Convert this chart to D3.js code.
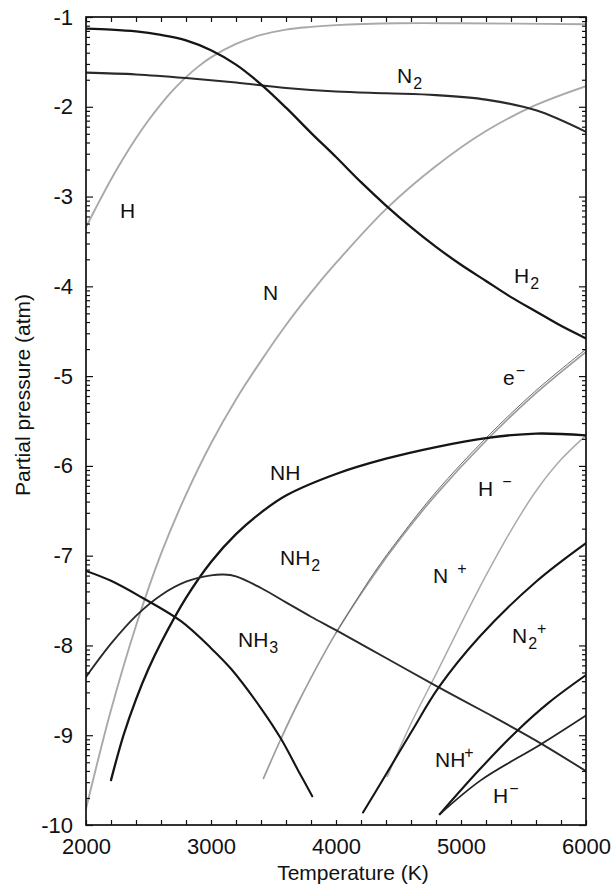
<!DOCTYPE html>
<html>
<head>
<meta charset="utf-8">
<script src="https://cdn.jsdelivr.net/npm/d3@7"></script>
<style>
  html, body { margin: 0; background: #fff; }
  svg { display: block; }
  text { font-family: "Liberation Sans", Arial, Helvetica, sans-serif; fill: #111; }
</style>
</head>
<body>
<svg id="chart" width="616" height="886"></svg>
<script>
// Equilibrium partial pressures, log10(p / atm), versus temperature (K)
const H2 = [[2000,-1.13],[2200,-1.14],[2400,-1.16],[2600,-1.20],[2800,-1.26],[3000,-1.37],[3200,-1.53],[3400,-1.75],[3600,-2.01],[3800,-2.29],[4000,-2.56],[4200,-2.84],[4400,-3.10],[4600,-3.34],[4800,-3.56],[5000,-3.76],[5200,-3.94],[5400,-4.12],[5600,-4.28],[5800,-4.44],[6000,-4.58]];
const N2 = [[2000,-1.62],[2400,-1.64],[2800,-1.68],[3200,-1.73],[3600,-1.79],[4000,-1.83],[4400,-1.85],[4800,-1.87],[5200,-1.92],[5600,-2.04],[6000,-2.28]];
const H  = [[2000,-3.34],[2100,-3.07],[2200,-2.81],[2300,-2.57],[2400,-2.35],[2500,-2.15],[2600,-1.97],[2700,-1.81],[2800,-1.67],[2900,-1.55],[3000,-1.45],[3200,-1.30],[3400,-1.20],[3600,-1.14],[3800,-1.11],[4000,-1.09],[4500,-1.07],[5000,-1.07],[6000,-1.08]];
const N  = [[2000,-9.82],[2200,-8.72],[2400,-7.78],[2600,-6.98],[2800,-6.32],[3000,-5.75],[3200,-5.26],[3400,-4.83],[3600,-4.43],[3800,-4.07],[4000,-3.74],[4400,-3.14],[4800,-2.66],[5200,-2.27],[5600,-1.98],[6000,-1.77]];
const NH = [[2200,-9.50],[2300,-9.00],[2400,-8.60],[2500,-8.26],[2600,-7.97],[2800,-7.47],[3000,-7.07],[3200,-6.76],[3400,-6.52],[3600,-6.33],[4000,-6.09],[4400,-5.92],[4800,-5.79],[5200,-5.69],[5600,-5.64],[6000,-5.66]];
const NH2 = [[2000,-8.35],[2200,-7.98],[2400,-7.67],[2600,-7.44],[2800,-7.29],[3000,-7.22],[3100,-7.21],[3200,-7.23],[3400,-7.36],[3600,-7.52],[3800,-7.68],[4000,-7.83],[4400,-8.14],[4800,-8.45],[5200,-8.75],[5600,-9.06],[6000,-9.40]];
const NH3 = [[2000,-7.17],[2200,-7.28],[2440,-7.46],[2760,-7.73],[3000,-8.03],[3160,-8.26],[3400,-8.70],[3560,-9.04],[3700,-9.40],[3810,-9.68]];
const Nplus = [[3420,-9.48],[3550,-9.07],[3700,-8.63],[4000,-7.86],[4300,-7.22],[4520,-6.80],[4800,-6.32],[5200,-5.72],[5600,-5.19],[6000,-4.73]];
const eMinus = [[4000,-7.86],[4300,-7.20],[4520,-6.78],[4800,-6.29],[5200,-5.69],[5600,-5.16],[6000,-4.70]];
const HminusHi = [[4410,-9.46],[4600,-8.87],[4800,-8.32],[5000,-7.76],[5200,-7.22],[5400,-6.72],[5600,-6.28],[5800,-5.93],[6000,-5.66]];
const N2plus = [[4216,-9.86],[4360,-9.53],[4600,-8.97],[4820,-8.47],[5150,-7.90],[5600,-7.29],[6000,-6.86]];
const NHplus = [[4830,-9.88],[5150,-9.38],[5450,-8.95],[5700,-8.64],[6000,-8.33]];
const HminusLo = [[4830,-9.88],[5160,-9.50],[5640,-9.10],[6000,-8.78]];

const tempTicks = d3.range(2000, 6001, 200);
const tempLabels = [2000, 3000, 4000, 5000, 6000];
const logTicks = d3.range(-1, -10.5, -1);

// Curves with their drawing style
const series = [
  { data: H,        color: "#a9a9a9", width: 1.9 },
  { data: N,        color: "#a9a9a9", width: 1.9 },
  { data: Nplus,    color: "#9c9c9c", width: 1.7 },
  { data: HminusHi, color: "#ababab", width: 1.5 },
  { data: eMinus,   color: "#6a6a6a", width: 1.0 },
  { data: N2,       color: "#2a2a2a", width: 2.1 },
  { data: H2,       color: "#151515", width: 2.3 },
  { data: NH,       color: "#151515", width: 2.3 },
  { data: NH2,      color: "#2a2a2a", width: 1.9 },
  { data: NH3,      color: "#151515", width: 2.1 },
  { data: N2plus,   color: "#151515", width: 2.1 },
  { data: NHplus,   color: "#151515", width: 2.1 },
  { data: HminusLo, color: "#222222", width: 1.8 }
];

// Species labels: anchor in data units, text split into base / sub / sup parts
const labels = [
  { T: 2272, v: -3.24, parts: [["H"]] },
  { T: 3416, v: -4.15, parts: [["N"]] },
  { T: 4488, v: -1.74, parts: [["N"], ["2", "sub"]] },
  { T: 5424, v: -3.96, parts: [["H"], ["2", "sub"]] },
  { T: 5336, v: -5.10, parts: [["e"], ["\u2212", "sup"]] },
  { T: 5136, v: -6.33, parts: [["H"], ["\u2212", "sup", 9]] },
  { T: 4776, v: -7.30, parts: [["N"], ["+", "sup", 9]] },
  { T: 3472, v: -6.16, parts: [["NH"]] },
  { T: 3552, v: -7.10, parts: [["NH"], ["2", "sub"]] },
  { T: 3216, v: -8.02, parts: [["NH"], ["3", "sub"]] },
  { T: 5408, v: -7.97, parts: [["N"], ["2", "sub"], ["+", "supAfterSub"]] },
  { T: 4792, v: -9.35, parts: [["NH"], ["+", "sup", -1]] },
  { T: 5256, v: -9.76, parts: [["H"], ["\u2212", "sup", 1]] }
];

const svg = d3.select("#chart");
const margin = { left: 86, right: 30, top: 17, bottom: 61 };
const W = 616, Hgt = 886;
const x = d3.scaleLinear().domain([2000, 6000]).range([margin.left, W - margin.right]);
const y = d3.scaleLinear().domain([-1, -10]).range([margin.top, Hgt - margin.bottom]);

const minorLog = [];
for (let d = -10; d <= -2; d++) for (let k = 2; k <= 9; k++) minorLog.push(d + Math.log10(k));

// Curves, clipped to the frame
svg.append("clipPath").attr("id", "plotClip").append("rect")
  .attr("x", x(2000)).attr("y", y(-1)).attr("width", x(6000) - x(2000)).attr("height", y(-10) - y(-1));

const line = d3.line().x(d => x(d[0])).y(d => y(d[1])).curve(d3.curveCatmullRom.alpha(0.5));
const curves = svg.append("g").attr("clip-path", "url(#plotClip)");
series.forEach(s => {
  curves.append("path").attr("d", line(s.data)).attr("fill", "none")
    .attr("stroke", s.color).attr("stroke-width", s.width)
    .attr("stroke-linecap", "round").attr("stroke-linejoin", "round");
});

// Axes with inward ticks
function styleAxis(g) {
  g.select(".domain").remove();
  g.selectAll(".tick line").attr("stroke", "#111").attr("stroke-width", 1.2);
  g.selectAll(".tick text").attr("font-size", 22).attr("fill", "#111")
    .attr("font-family", "'Liberation Sans', Arial, Helvetica, sans-serif");
}
const fmtT = d => tempLabels.includes(d) ? String(d) : "";

svg.append("g").attr("transform", `translate(0,${y(-10)})`)
  .call(d3.axisBottom(x).tickValues(tempTicks).tickSize(-5).tickPadding(13).tickFormat(fmtT))
  .call(styleAxis);
svg.append("g").attr("transform", `translate(0,${y(-1)})`)
  .call(d3.axisTop(x).tickValues(tempTicks).tickSize(-5).tickFormat(""))
  .call(styleAxis);
svg.append("g").attr("transform", `translate(${x(2000)},0)`)
  .call(d3.axisLeft(y).tickValues(logTicks).tickSize(-7).tickPadding(13).tickFormat(d => String(d)))
  .call(styleAxis);
svg.append("g").attr("transform", `translate(${x(2000)},0)`)
  .call(d3.axisLeft(y).tickValues(minorLog).tickSize(-4).tickFormat(""))
  .call(styleAxis);
svg.append("g").attr("transform", `translate(${x(6000)},0)`)
  .call(d3.axisRight(y).tickValues(logTicks).tickSize(-7).tickFormat(""))
  .call(styleAxis);
svg.append("g").attr("transform", `translate(${x(6000)},0)`)
  .call(d3.axisRight(y).tickValues(minorLog).tickSize(-4).tickFormat(""))
  .call(styleAxis);

// Frame
svg.append("rect")
  .attr("x", x(2000)).attr("y", y(-1))
  .attr("width", x(6000) - x(2000)).attr("height", y(-10) - y(-1))
  .attr("fill", "none").attr("stroke", "#111").attr("stroke-width", 1.7);

// Axis titles
svg.append("text").attr("x", 353).attr("y", 880).attr("text-anchor", "middle")
  .attr("font-size", 21).text("Temperature (K)");
svg.append("text").attr("transform", "translate(30,395) rotate(-90)").attr("text-anchor", "middle")
  .attr("font-size", 21).text("Partial pressure (atm)");

// Species labels
labels.forEach(l => {
  const t = svg.append("text").attr("x", x(l.T)).attr("y", y(l.v)).attr("font-size", 21);
  let shift = 0;
  l.parts.forEach(p => {
    const [str, kind, gap] = p;
    const ts = t.append("tspan").text(str);
    if (!kind) {
      ts.attr("dy", -shift); shift = 0;
    } else if (kind === "sub") {
      ts.attr("font-size", 16).attr("dy", 6 - shift).attr("dx", 1); shift = 6;
    } else if (kind === "sup") {
      ts.attr("font-size", 16).attr("dy", -9 - shift).attr("dx", gap || 1); shift = -9;
    } else if (kind === "supAfterSub") {
      ts.attr("font-size", 16).attr("dy", -15).attr("dx", 0); shift = -9;
    }
  });
});
</script>
</body>
</html>
